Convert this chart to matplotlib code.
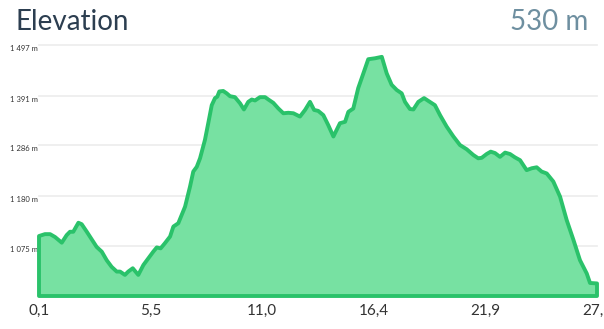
import numpy as np
import matplotlib.pyplot as plt

# distance (km) and elevation (m)
dist_km = [0.1, 0.39, 0.64, 0.88, 1.21, 1.45, 1.61, 1.77, 2.02, 2.18,
           2.43, 2.67, 2.91, 3.16, 3.40, 3.64, 3.89, 4.05, 4.29, 4.45,
           4.67, 4.94, 5.19, 5.43, 5.67, 5.84, 6.03, 6.24, 6.49, 6.65,
           6.89, 7.22, 7.46, 7.62, 7.79, 7.95, 8.19, 8.35, 8.52, 8.68,
           8.79, 8.89, 9.08, 9.25, 9.41, 9.65, 9.90, 10.09, 10.30, 10.47,
           10.63, 10.87, 11.12, 11.28, 11.52, 11.77, 12.01, 12.25, 12.50, 12.82,
           13.07, 13.31, 13.51, 13.71, 13.96, 14.20, 14.45, 14.61, 14.77, 15.02,
           15.18, 15.42, 15.66, 15.91, 16.15, 16.48, 16.81, 17.05, 17.29, 17.54,
           17.78, 17.94, 18.18, 18.35, 18.59, 18.87, 19.08, 19.40, 19.65, 19.97,
           20.30, 20.62, 20.95, 21.27, 21.51, 21.68, 21.92, 22.12, 22.33, 22.57,
           22.82, 23.06, 23.30, 23.55, 23.87, 24.12, 24.36, 24.60, 24.85, 25.17,
           25.50, 25.82, 26.15, 26.47, 26.80, 26.96, 27.3]
elev_m = [1095, 1099, 1099, 1093, 1081, 1097, 1104, 1104, 1123, 1120,
          1104, 1088, 1072, 1062, 1044, 1030, 1020, 1020, 1013, 1020,
          1027, 1013, 1034, 1048, 1062, 1071, 1069, 1080, 1094, 1115,
          1122, 1157, 1199, 1231, 1241, 1259, 1298, 1333, 1371, 1386,
          1389, 1400, 1401, 1396, 1390, 1388, 1375, 1362, 1378, 1383,
          1381, 1388, 1388, 1383, 1376, 1364, 1354, 1355, 1354, 1347,
          1361, 1378, 1361, 1359, 1350, 1329, 1305, 1319, 1333, 1336,
          1357, 1364, 1407, 1438, 1468, 1470, 1473, 1438, 1414, 1403,
          1396, 1378, 1363, 1362, 1378, 1386, 1380, 1371, 1350, 1326,
          1305, 1287, 1278, 1266, 1259, 1260, 1268, 1273, 1270, 1262,
          1271, 1268, 1261, 1255, 1234, 1238, 1240, 1231, 1227, 1210,
          1178, 1129, 1087, 1044, 1016, 996, 995]

y_ticks = [1075, 1180, 1286, 1391, 1497]
y_labels = ["1 075 m", "1 180 m", "1 286 m", "1 391 m", "1 497 m"]
x_ticks = np.linspace(0.1, 27.3, 6)
x_labels = [f"{v:.1f}".replace(".", ",") for v in x_ticks]
gain_text = "530 m"

y_min, y_max = 968.5, 1498

fig = plt.figure(figsize=(6.04, 3.29), dpi=100)
ax = fig.add_axes([39 / 604, 33 / 329, 558 / 604, 251 / 329])

# grid lines
for v in y_ticks:
    ax.axhline(v, color="#eeeeee", lw=1.3, zorder=0, clip_on=False)

# closed profile: fill plus outline down to the baseline
px = np.r_[dist_km[0], dist_km, dist_km[-1]]
py = np.r_[y_min, elev_m, y_min]
ax.fill(px, py, facecolor="#77e1a2", edgecolor="#2ac26a", lw=2.8,
        joinstyle="round", clip_on=False, zorder=2)

ax.set_xlim(dist_km[0], dist_km[-1])
ax.set_ylim(y_min, y_max)
for s in ax.spines.values():
    s.set_visible(False)

ax.set_yticks(y_ticks)
ax.set_yticklabels(y_labels, fontsize=5.5, color="#333333", family="Lato",
                   ha="left", va="top")
ax.tick_params(axis="y", length=0, pad=21)

ax.set_xticks(x_ticks)
ax.set_xticklabels(x_labels, fontsize=11, color="#333333", family="Lato")
ax.tick_params(axis="x", direction="in", length=3, width=1, color="white", pad=6)
for t in ax.xaxis.get_major_ticks():
    t.tick1line.set_zorder(5)

fig.text(15 / 604, 1 - 30 / 329, "Elevation", fontsize=20, family="Lato",
         color="#2c3e50", ha="left", va="baseline")
fig.text(588 / 604, 1 - 30 / 329, gain_text, fontsize=20, family="Lato",
         color="#6e8fa0", ha="right", va="baseline")

fig.savefig("out.png", dpi=100)
